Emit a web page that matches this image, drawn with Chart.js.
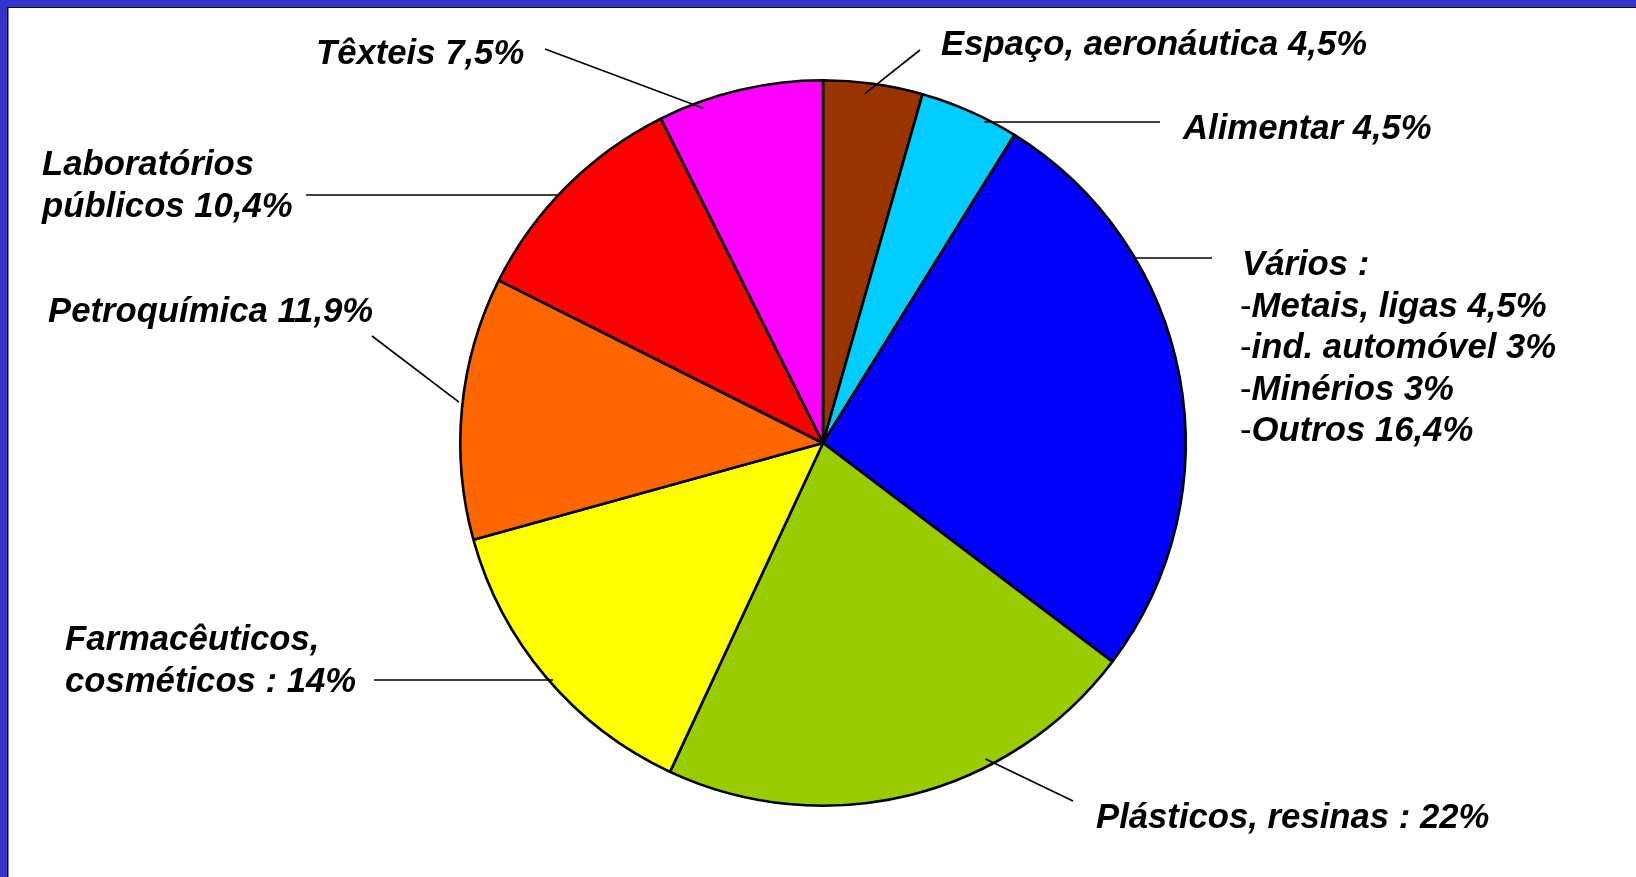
<!DOCTYPE html>
<html>
<head>
<meta charset="utf-8">
<title>Repartição por sector</title>
<script src="https://cdn.jsdelivr.net/npm/chart.js@4.4.1/dist/chart.umd.min.js"></script>
<style>
  html, body { margin: 0; padding: 0; background: #fff; }
  #frame {
    position: absolute; left: 0; top: 0; width: 1629px; height: 870px;
    border-top: 7px solid #3333cc; border-left: 7px solid #3333cc;
  }
  #frame-inner {
    position: absolute; left: 0; top: 0; right: 0; bottom: 0;
    border-top: 1px solid #111; border-left: 1px solid #111;
    box-shadow: inset 1px 0 0 #888;
  }
  #pie { position: absolute; left: 0; top: 0; }
</style>
</head>
<body>
<div id="frame"><div id="frame-inner"></div></div>
<canvas id="pie" width="1636" height="877"></canvas>
<script>
// sectors, clockwise from 12 o'clock
const sectors = ['Espaço, aeronáutica', 'Alimentar', 'Vários', 'Plásticos, resinas',
                 'Farmacêuticos, cosméticos', 'Petroquímica', 'Laboratórios públicos', 'Têxteis'];
// breakdown of "Vários"
const variosParts = ['Metais, ligas', 'ind. automóvel', 'Minérios', 'Outros'];
const variosValues = [4.5, 3, 3, 16.4];
const variosTotal = variosValues.reduce((a, b) => a + b, 0);
const shares = [4.5, 4.5, variosTotal, 22, 14, 11.9, 10.4, 7.5];
const sliceColors = ['#993300', '#00ccff', '#0000ff', '#99cc00', '#ffff00', '#ff6600', '#ff0000', '#ff00ff'];

const pct = v => String(Math.round(v * 10) / 10).replace('.', ',') + '%';

// label text + where it sits.
// flat leaders run horizontally to the pie edge; others point at "at" (0..1 inside the slice)
const callouts = [
  { lines: [sectors[0] + ' ' + pct(shares[0])], x: 941, y: 55, at: 0.43, depth: 0.97, end: [920, 50] },
  { lines: [sectors[1] + ' ' + pct(shares[1])], x: 1183, y: 139, flat: true, depth: 0.99, end: [1160, 122] },
  { lines: ['Vários :'].concat(variosParts.map((p, i) => '-' + p + ' ' + pct(variosValues[i]))),
    x: 1242, y: 275, flat: true, depth: 0.995, end: [1212, 258] },
  { lines: ['Plásticos, resinas : ' + pct(shares[3])], x: 1096, y: 828, at: 0.33, depth: 0.98, end: [1073, 801] },
  { lines: ['Farmacêuticos,', 'cosméticos : ' + pct(shares[4])], x: 65, y: 650, flat: true, depth: 0.99, end: [374, 680] },
  { lines: [sectors[5] + ' ' + pct(shares[5])], x: 48, y: 322, at: 0.52, depth: 1.01, end: [372, 336] },
  { lines: ['Laboratórios', 'públicos ' + pct(shares[6])], x: 42, y: 175, flat: true, depth: 1.0, end: [306, 195] },
  { lines: [sectors[7] + ' ' + pct(shares[7])], x: 316, y: 64, at: 0.26, depth: 0.98, end: [545, 49] }
];

const FONT = 'italic bold 34.7px "Liberation Sans", Arial, sans-serif';
const DASH_FONT = '34.7px "Liberation Sans", Arial, sans-serif';
const LINE_H = 41.5;

const calloutPlugin = {
  id: 'callouts',
  afterDatasetsDraw(chart) {
    const ctx = chart.ctx;
    const arcs = chart.getDatasetMeta(0).data;
    ctx.save();
    ctx.strokeStyle = '#000';
    ctx.lineWidth = 1.6;
    ctx.fillStyle = '#000';
    ctx.textBaseline = 'alphabetic';
    ctx.textAlign = 'left';
    callouts.forEach((c, i) => {
      const p = arcs[i].getProps(['x', 'y', 'startAngle', 'endAngle', 'outerRadius'], true);
      const r = p.outerRadius * c.depth;
      let sx, sy;
      if (c.flat) {
        sy = c.end[1];
        const dy = sy - p.y;
        const dx = Math.sqrt(Math.max(r * r - dy * dy, 0));
        sx = p.x + (c.end[0] > p.x ? dx : -dx);
      } else {
        const a = p.startAngle + (p.endAngle - p.startAngle) * c.at;
        sx = p.x + Math.cos(a) * r;
        sy = p.y + Math.sin(a) * r;
      }
      ctx.beginPath();
      ctx.moveTo(sx, sy);
      ctx.lineTo(c.end[0], c.end[1]);
      ctx.stroke();

      c.lines.forEach((line, k) => {
        const y = c.y + k * LINE_H;
        let x = c.x;
        if (line.startsWith('-')) {
          ctx.font = DASH_FONT;
          x -= 2;
          ctx.fillText('-', x, y);
          x += ctx.measureText('-').width;
          line = line.slice(1);
        }
        ctx.font = FONT;
        ctx.fillText(line, x, y);
      });
    });
    ctx.restore();
  }
};

new Chart(document.getElementById('pie'), {
  type: 'pie',
  data: {
    labels: sectors,
    datasets: [{
      data: shares,
      backgroundColor: sliceColors,
      borderColor: '#000',
      borderWidth: 2.6
    }]
  },
  options: {
    responsive: false,
    animation: false,
    layout: { padding: { left: 458, right: 448, top: 79, bottom: 70 } },
    plugins: {
      legend: { display: false },
      tooltip: { enabled: false }
    }
  },
  plugins: [calloutPlugin]
});
</script>
</body>
</html>
